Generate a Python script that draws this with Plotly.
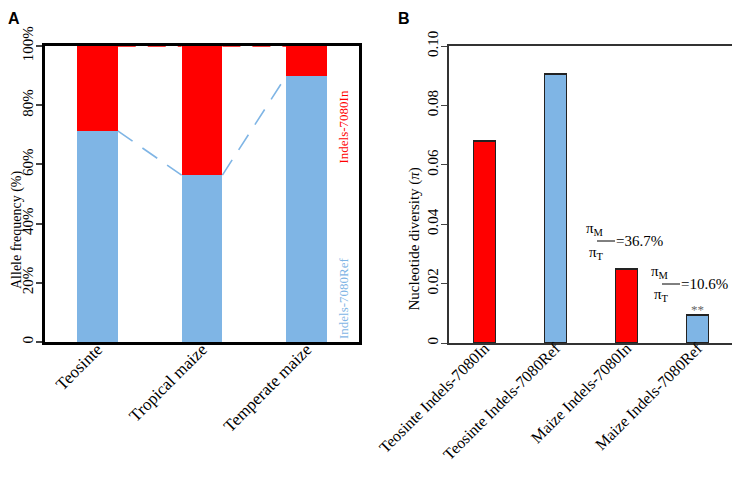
import plotly.graph_objs as go

# panel A data
groups = ["Teosinte", "Tropical maize", "Temperate maize"]
ref_freq = [71.3, 56.4, 89.9]
in_freq = [100 - v for v in ref_freq]

# panel B data
pi_labels = ["Teosinte Indels-7080In", "Teosinte Indels-7080Ref",
             "Maize Indels-7080In", "Maize Indels-7080Ref"]
pi_values = [0.068, 0.0906, 0.0249, 0.0094]
pi_colors = ["#FF0000", "#7FB5E5", "#FF0000", "#7FB5E5"]
ratio_in = "36.7%"
ratio_ref = "10.6%"

RED = "#FF0000"
BLUE = "#7FB5E5"
SERIF = "Liberation Serif"

# the page body has an 8px margin, so the figure is a bit smaller than the window
OFF = 8
W, H = 740 - OFF, 498 - OFF


def px(x):
    return (x - OFF) / W


def py(y):
    return 1 - (y - OFF) / H


bar_w_a = 0.39
bar_w_b = 0.31
xa = list(range(len(groups)))
xb = list(range(len(pi_labels)))


def connector(xs, ys):
    # dashed segments from right edge of each bar to left edge of the next one
    lx, ly = [], []
    for i in range(len(xs) - 1):
        lx += [xs[i] + bar_w_a / 2, xs[i + 1] - bar_w_a / 2, None]
        ly += [ys[i], ys[i + 1], None]
    return lx, ly


ref_line = connector(xa, ref_freq)
in_line = connector(xa, [r + i for r, i in zip(ref_freq, in_freq)])

fig = go.Figure()

fig.add_trace(go.Bar(x=xa, y=ref_freq, width=bar_w_a, marker=dict(color=BLUE, line=dict(width=0)),
                     xaxis="x", yaxis="y", showlegend=False))
fig.add_trace(go.Bar(x=xa, y=in_freq, width=bar_w_a, marker=dict(color=RED, line=dict(width=0)),
                     xaxis="x", yaxis="y", showlegend=False))
fig.add_trace(go.Scatter(x=ref_line[0], y=ref_line[1], mode="lines",
                         line=dict(color=BLUE, width=1.6, dash="18px,12px"),
                         xaxis="x", yaxis="y", showlegend=False))
fig.add_trace(go.Scatter(x=in_line[0], y=in_line[1], mode="lines",
                         line=dict(color=RED, width=1.6, dash="18px,12px"),
                         xaxis="x", yaxis="y", showlegend=False))

fig.add_trace(go.Bar(x=xb, y=pi_values, width=bar_w_b,
                     marker=dict(color=pi_colors, line=dict(color="#222222", width=1.3)),
                     xaxis="x2", yaxis="y2", showlegend=False))

fig.update_layout(
    template="none",
    width=W, height=H, barmode="stack",
    margin=dict(l=0, r=0, t=0, b=0),
    plot_bgcolor="white", paper_bgcolor="white",
    font=dict(family=SERIF, size=17, color="black"),
    xaxis=dict(domain=[px(45), px(359)], range=[-0.5, 2.5], tickvals=xa, ticktext=groups,
               tickangle=-45, tickfont=dict(family=SERIF, size=17), ticklabelstandoff=-12,
               showline=True, linecolor="black", linewidth=2.5, mirror=True,
               ticks="", showgrid=False, zeroline=False, anchor="y", automargin=False),
    yaxis=dict(domain=[py(342), py(46)], range=[0, 100],
               tickvals=[0, 20, 40, 60, 80, 100],
               ticktext=["0", "20%", "40%", "60%", "80%", "100%"], tickangle=-90,
               tickfont=dict(family=SERIF, size=15), ticklabelstandoff=-3,
               showline=True, linecolor="black", linewidth=2.5, mirror=True,
               ticks="outside", ticklen=6, tickwidth=2, showgrid=False, zeroline=False,
               anchor="x", automargin=False),
    xaxis2=dict(domain=[px(449), px(733)], range=[-0.5, 3.5], tickvals=xb, ticktext=pi_labels,
                tickangle=-45, tickfont=dict(family=SERIF, size=16), ticklabelstandoff=-12,
                showline=True, linecolor="#333333", linewidth=1.5, mirror=True,
                ticks="", showgrid=False, zeroline=False, anchor="y2", automargin=False),
    yaxis2=dict(domain=[py(343), py(46)], range=[0, 0.1],
                tickvals=[0, 0.02, 0.04, 0.06, 0.08, 0.1],
                ticktext=["0", "0.02", "0.04", "0.06", "0.08", "0.10"], tickangle=-90,
                tickfont=dict(family=SERIF, size=15), ticklabelstandoff=-3,
                showline=True, linecolor="#333333", linewidth=1.5, mirror=True,
                ticks="outside", ticklen=6, tickwidth=1.3, showgrid=False, zeroline=False,
                anchor="x2", automargin=False),
)

ann = [
    dict(text="<b>A</b>", x=px(6), y=1, xanchor="left", yanchor="top",
         font=dict(family="Liberation Sans", size=16)),
    dict(text="<b>B</b>", x=px(396), y=1, xanchor="left", yanchor="top",
         font=dict(family="Liberation Sans", size=16)),
    dict(text="Allele frequency (%)", x=0, y=py(170), xanchor="left", textangle=-90,
         borderpad=0, font=dict(size=14)),
    dict(text="Nucleotide diversity (<i>π</i>)", x=px(414), y=py(165), textangle=-90,
         font=dict(size=15)),
    dict(text="Indels-7080In", x=px(343), y=py(89), textangle=-90,
         font=dict(size=13, color=RED)),
    dict(text="Indels-7080Ref", x=px(343), y=py(298), textangle=-90,
         font=dict(size=13, color=BLUE)),
    # fraction pi_M / pi_T = 36.7%
    dict(text="π<sub>M</sub>", x=px(606), y=py(229), font=dict(size=15)),
    dict(text="π<sub>T</sub>", x=px(606), y=py(253), font=dict(size=15)),
    dict(text="=" + ratio_in, x=px(614), y=py(241), xanchor="left", font=dict(size=15)),
    dict(text="π<sub>M</sub>", x=px(671), y=py(272), font=dict(size=15)),
    dict(text="π<sub>T</sub>", x=px(671), y=py(295), font=dict(size=15)),
    dict(text="=" + ratio_ref, x=px(679), y=py(284), xanchor="left", font=dict(size=15)),
    dict(text="**", x=xb[3], y=pi_values[3], xref="x2", yref="y2", yanchor="bottom",
         yshift=-4, font=dict(size=13, color="#666666")),
]
for a in ann:
    a.setdefault("xref", "paper")
    a.setdefault("yref", "paper")
    a["showarrow"] = False
fig.update_layout(annotations=ann)

fig.add_shape(type="line", xref="paper", yref="paper", x0=px(597), x1=px(615),
              y0=py(241), y1=py(241), line=dict(color="black", width=1))
fig.add_shape(type="line", xref="paper", yref="paper", x0=px(662), x1=px(680),
              y0=py(284), y1=py(284), line=dict(color="black", width=1))

fig.write_html("out.html")
